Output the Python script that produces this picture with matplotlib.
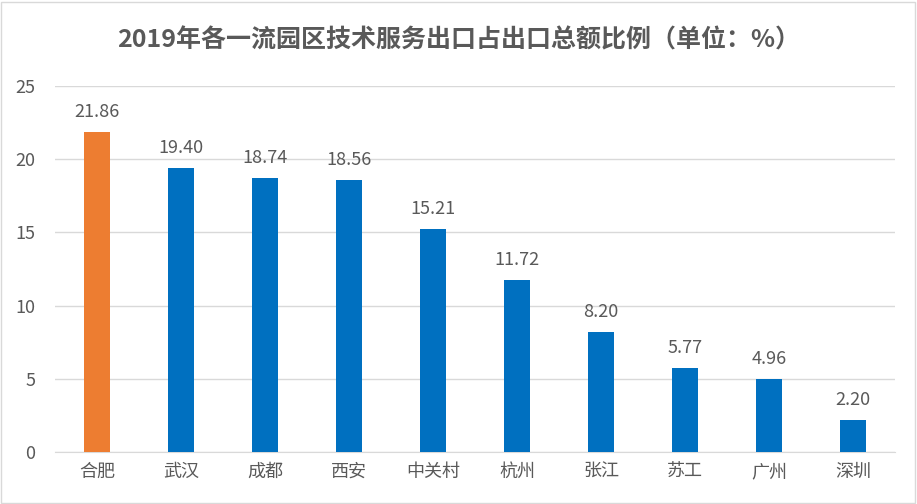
import matplotlib.pyplot as plt

plt.rcParams["font.family"] = ["Noto Sans CJK SC", "DejaVu Sans"]

cities = ["合肥", "武汉", "成都", "西安", "中关村", "杭州", "张江", "苏工", "广州", "深圳"]
shares = [21.86, 19.40, 18.74, 18.56, 15.21, 11.72, 8.20, 5.77, 4.96, 2.20]
highlight = "合肥"
title = "2019年各一流园区技术服务出口占出口总额比例（单位：%）"

text_color = "#595959"
colors = ["#ED7D31" if c == highlight else "#0070C0" for c in cities]

fig = plt.figure(figsize=(9.17, 5.04), dpi=100)
ax = fig.add_axes([55 / 917, 1 - 452 / 504, 840 / 917, 366 / 504])

x = range(len(cities))
bars = ax.bar(x, shares, width=0.31, color=colors, zorder=3)
for b, v in zip(bars, shares):
    ax.text(b.get_x() + b.get_width() / 2, v + 0.75, f"{v:.2f}",
            ha="center", va="bottom", fontsize=13, color=text_color)

ax.set_xlim(-0.5, len(cities) - 0.5)
ax.set_ylim(0, 25)
ax.set_yticks([0, 5, 10, 15, 20, 25])
ax.set_xticks(list(x))
ax.set_xticklabels(cities)
ax.tick_params(axis="both", length=0, colors=text_color, labelsize=13)
ax.tick_params(axis="x", pad=8)
ax.tick_params(axis="y", pad=14)
ax.grid(axis="y", color="#D9D9D9", linewidth=1, zorder=0)
for side in ["top", "right", "left"]:
    ax.spines[side].set_visible(False)
ax.spines["bottom"].set_color("#D9D9D9")

fig.text(459 / 917, 1 - 40 / 504, title, ha="center", va="center",
         fontsize=18, fontweight="bold", color=text_color)

fig.patches.append(plt.Rectangle((0.001, 0.001), 0.997, 0.996, transform=fig.transFigure,
                                 fill=False, edgecolor="#D9D9D9", linewidth=1))

fig.savefig("out.png", dpi=100)
